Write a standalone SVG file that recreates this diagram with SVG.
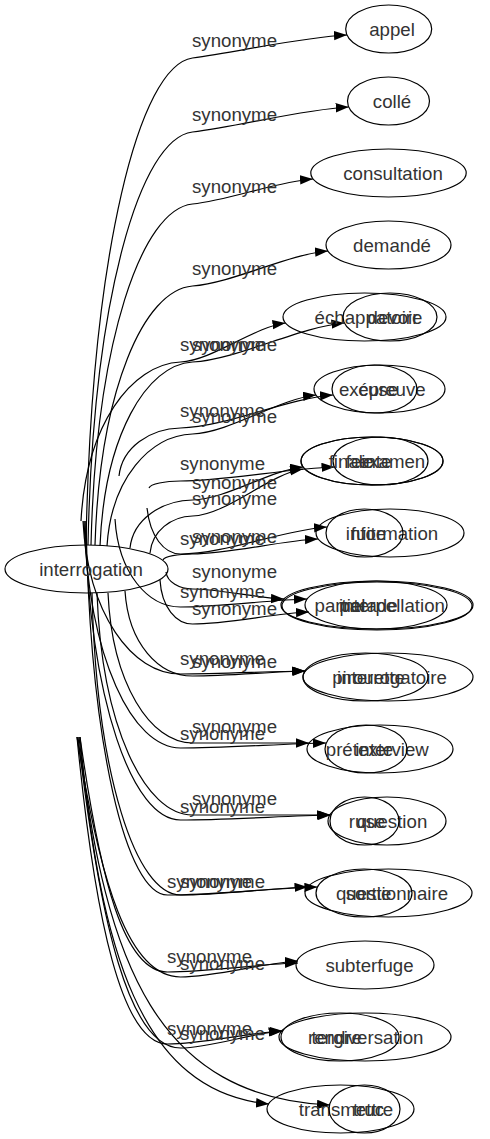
<svg xmlns="http://www.w3.org/2000/svg" width="490" height="1139" viewBox="0 0 490 1139">
<style>
.n ellipse{fill:none;stroke:#000;stroke-width:1.2}
.t{font-family:"Liberation Sans",Arial,sans-serif;font-size:18.67px;fill:#333;text-anchor:middle}
#edges path{fill:none;stroke:#000;stroke-width:1.2;marker-end:url(#ah)}
</style>
<defs>
<marker id="ah" markerUnits="userSpaceOnUse" markerWidth="14" markerHeight="10" refX="13" refY="4.7" orient="auto"><path d="M0,0 L13,4.7 L0,9.4 z" fill="#000"/></marker>
</defs>
<rect width="490" height="1139" fill="#fff"/>
<g id="edges">
<path d="M86,545 C91.3,252.8 139.2,65.3 192.5,58 C238.9,51.7 300.6,37.3 347,35"/>
<path d="M88,545 C93.2,297.2 140.2,138.2 192.5,132 C239.4,126.4 301.8,109.5 348.7,107"/>
<path d="M91,545 C96.1,340.4 141.8,209.1 192.5,204 C228.7,200.4 276.9,181.5 313,179"/>
<path d="M95,545 C99.9,389.6 143.8,289.9 192.5,286 C233.2,282.7 287.4,254.5 328,251"/>
<path d="M100,546 C104.6,435.6 146.3,364.8 192.5,362 C238.1,359.3 298.8,326.9 344.4,323"/>
<path d="M81,521 C86,425.6 130.8,364.4 180.5,362 C212,360.5 254,326.9 285.5,323"/>
<path d="M107,546 C111.3,478.8 149.8,435.7 192.5,434 C229.6,432.5 279,398.9 316,395"/>
<path d="M119,476 C122.1,447.2 149.8,428.7 180.5,428 C226.3,427 287.3,398.3 333,395"/>
<path d="M130,548 C133.1,519.2 161.3,500.7 192.5,500 C225.7,499.3 269.9,470.3 303,467"/>
<path d="M149,488 C150.6,483.8 164.8,481.1 180.5,481 C226.7,480.7 288.3,468.4 334.5,467"/>
<path d="M150,553 C152.1,530.8 171.3,516.6 192.5,516 C225.7,515.6 269.9,473.7 303,469"/>
<path d="M163,560 C164.5,556.4 177.8,554.1 192.5,554 C230.2,554 280.4,540.5 318,539"/>
<path d="M147,508 C150,536 163.8,554 180.5,554 C224.5,554 283,530 327,527"/>
<path d="M166,572 C167.3,582.2 179.3,589 192.5,589 C220,589 256.5,598 284,599"/>
<path d="M115,519 C118.3,573 147.8,607 180.5,607 C218.5,607 269,600 307,599"/>
<path d="M160,580 C161.6,607.6 176.3,624 192.5,624 C227.5,624 274,613.4 309,612"/>
<path d="M125,591 C128.4,643.8 158.8,676 192.5,676 C226.4,676 271.6,671.8 305.5,671"/>
<path d="M83,521 C87.9,614 131.8,674 180.5,674 C217.9,674 267.7,671.5 305,671"/>
<path d="M108,593 C112.2,683.6 150.3,743 192.5,743 C227.5,743 274,743 309,743"/>
<path d="M84,521 C88.8,659 132.3,748 180.5,748 C224.2,748 282.4,743.8 326,743"/>
<path d="M97,593 C101.8,726.8 144.8,815 192.5,815 C233.8,815 288.8,815 330,815"/>
<path d="M85,521 C89.8,702.8 132.8,820 180.5,820 C225.7,820 285.9,815.9 331,815"/>
<path d="M92,593 C96.4,776.6 136.3,895 180.5,895 C218.6,895 269.4,888.2 307.5,887"/>
<path d="M86,521 C90.1,747.8 126.8,895 167.5,895 C212.5,895 272.4,888.2 317.4,887"/>
<path d="M77,737 C100,883 128.8,977 180.5,977 C215.8,977 262.8,963 298,961"/>
<path d="M80,737 C100,879 123.8,972 167.5,972 C206.7,972 258.9,964.1 298,963"/>
<path d="M78,737 C100,925 129.3,1048 180.5,1048 C210.8,1048 251.3,1033 281.6,1031"/>
<path d="M77,737 C95,922 122.3,1044 167.5,1044 C202.2,1044 248.4,1032.5 283,1031"/>
<path d="M80,737 C100,950 140,1092 269,1104"/>
<path d="M79,737 C105,970 160,1097 330,1105"/>
<g class="t">
<text x="234.5" y="47">synonyme</text>
<text x="234.5" y="121">synonyme</text>
<text x="234.5" y="193">synonyme</text>
<text x="234.5" y="275">synonyme</text>
<text x="234.5" y="351">synonyme</text>
<text x="222.5" y="351">synonyme</text>
<text x="234.5" y="423">synonyme</text>
<text x="222.5" y="417">synonyme</text>
<text x="234.5" y="489">synonyme</text>
<text x="222.5" y="470">synonyme</text>
<text x="234.5" y="505">synonyme</text>
<text x="234.5" y="543">synonyme</text>
<text x="222.5" y="545">synonyme</text>
<text x="234.5" y="578">synonyme</text>
<text x="222.5" y="598">synonyme</text>
<text x="234.5" y="615">synonyme</text>
<text x="234.5" y="668">synonyme</text>
<text x="222.5" y="665">synonyme</text>
<text x="234.5" y="733">synonyme</text>
<text x="222.5" y="740">synonyme</text>
<text x="234.5" y="805">synonyme</text>
<text x="222.5" y="813">synonyme</text>
<text x="222.5" y="888">synonyme</text>
<text x="209.5" y="888">synonyme</text>
<text x="222.5" y="970">synonyme</text>
<text x="209.5" y="963">synonyme</text>
<text x="222.5" y="1040">synonyme</text>
<text x="209.5" y="1035">synonyme</text>
</g>
</g>
<g id="interrogation" class="n"><ellipse cx="86.5" cy="569" rx="81.5" ry="24"/><text class="t" x="91" y="575.5">interrogation</text></g>
<g id="appel" class="n"><ellipse cx="388.7" cy="29" rx="43" ry="24"/><text class="t" x="392" y="35.5">appel</text></g>
<g id="colle" class="n"><ellipse cx="388.5" cy="101" rx="41" ry="24"/><text class="t" x="392" y="107.5">collé</text></g>
<g id="consultation" class="n"><ellipse cx="388.5" cy="173" rx="77.7" ry="24"/><text class="t" x="393" y="179.5">consultation</text></g>
<g id="demande" class="n"><ellipse cx="388.5" cy="245" rx="62.5" ry="24"/><text class="t" x="392" y="251.5">demandé</text></g>
<g id="echappatoire" class="n"><ellipse cx="364.5" cy="317" rx="81.5" ry="24"/><text class="t" x="368.5" y="323.5">échappatoire</text></g>
<g id="devoir" class="n"><ellipse cx="390" cy="317" rx="47" ry="24"/><text class="t" x="393" y="323.5">devoir</text></g>
<g id="epreuve" class="n"><ellipse cx="379.5" cy="389" rx="65.5" ry="24"/><text class="t" x="392" y="395.5">épreuve</text></g>
<g id="excuse" class="n"><ellipse cx="374.5" cy="389" rx="42.5" ry="24"/><text class="t" x="368.5" y="395.5">excuse</text></g>
<g id="examen" class="n"><ellipse cx="372" cy="461" rx="71" ry="24"/><text class="t" x="392" y="467.5">examen</text></g>
<g id="feinte" class="n"><ellipse cx="380.5" cy="461" rx="47.5" ry="24"/><text class="t" x="368.5" y="467.5">feinte</text></g>
<g id="finale" class="n"><ellipse cx="372" cy="461" rx="71" ry="24"/><text class="t" x="351" y="467.5">finale</text></g>
<g id="information" class="n"><ellipse cx="390" cy="533" rx="74" ry="24"/><text class="t" x="392" y="539.5">information</text></g>
<g id="fuite" class="n"><ellipse cx="364.5" cy="533" rx="38.5" ry="24"/><text class="t" x="368.5" y="539.5">fuite</text></g>
<g id="interpellation" class="n"><ellipse cx="377" cy="605" rx="96" ry="24"/><text class="t" x="392" y="611.5">interpellation</text></g>
<g id="parade" class="n"><ellipse cx="376" cy="605" rx="71" ry="24"/><text class="t" x="368.5" y="611.5">parade</text></g>
<g id="partiel" class="n"><ellipse cx="377" cy="606" rx="95" ry="24"/><text class="t" x="340" y="611.5">partiel</text></g>
<g id="interrogatoire" class="n"><ellipse cx="388" cy="677" rx="85" ry="24"/><text class="t" x="392" y="683.5">interrogatoire</text></g>
<g id="pirouette" class="n"><ellipse cx="365.5" cy="677" rx="62.5" ry="24"/><text class="t" x="368.5" y="683.5">pirouette</text></g>
<g id="interview" class="n"><ellipse cx="380" cy="749" rx="73" ry="24"/><text class="t" x="392" y="755.5">interview</text></g>
<g id="pretexte" class="n"><ellipse cx="366" cy="749" rx="41" ry="24"/><text class="t" x="359.5" y="755.5">prétexte</text></g>
<g id="question" class="n"><ellipse cx="387" cy="821" rx="59" ry="24"/><text class="t" x="392" y="827.5">question</text></g>
<g id="ruse" class="n"><ellipse cx="364.5" cy="821" rx="34.5" ry="24"/><text class="t" x="367" y="827.5">ruse</text></g>
<g id="questionnaire" class="n"><ellipse cx="388.5" cy="893" rx="83.5" ry="24"/><text class="t" x="392" y="899.5">questionnaire</text></g>
<g id="sortie" class="n"><ellipse cx="364" cy="893" rx="48" ry="24"/><text class="t" x="368.5" y="899.5">sortie</text></g>
<g id="subterfuge" class="n"><ellipse cx="365" cy="965" rx="69" ry="24"/><text class="t" x="369.5" y="971.5">subterfuge</text></g>
<g id="tergiversation" class="n"><ellipse cx="365" cy="1037" rx="86" ry="24"/><text class="t" x="367.5" y="1043.5">tergiversation</text></g>
<g id="rendre" class="n"><ellipse cx="340" cy="1037" rx="59" ry="24"/><text class="t" x="335" y="1043.5">rendre</text></g>
<g id="transmettre" class="n"><ellipse cx="340.5" cy="1109" rx="73.5" ry="24"/><text class="t" x="346" y="1115.5">transmettre</text></g>
<g id="truc" class="n"><ellipse cx="364.5" cy="1109" rx="35.5" ry="24"/><text class="t" x="368.5" y="1115.5">truc</text></g>
</svg>
